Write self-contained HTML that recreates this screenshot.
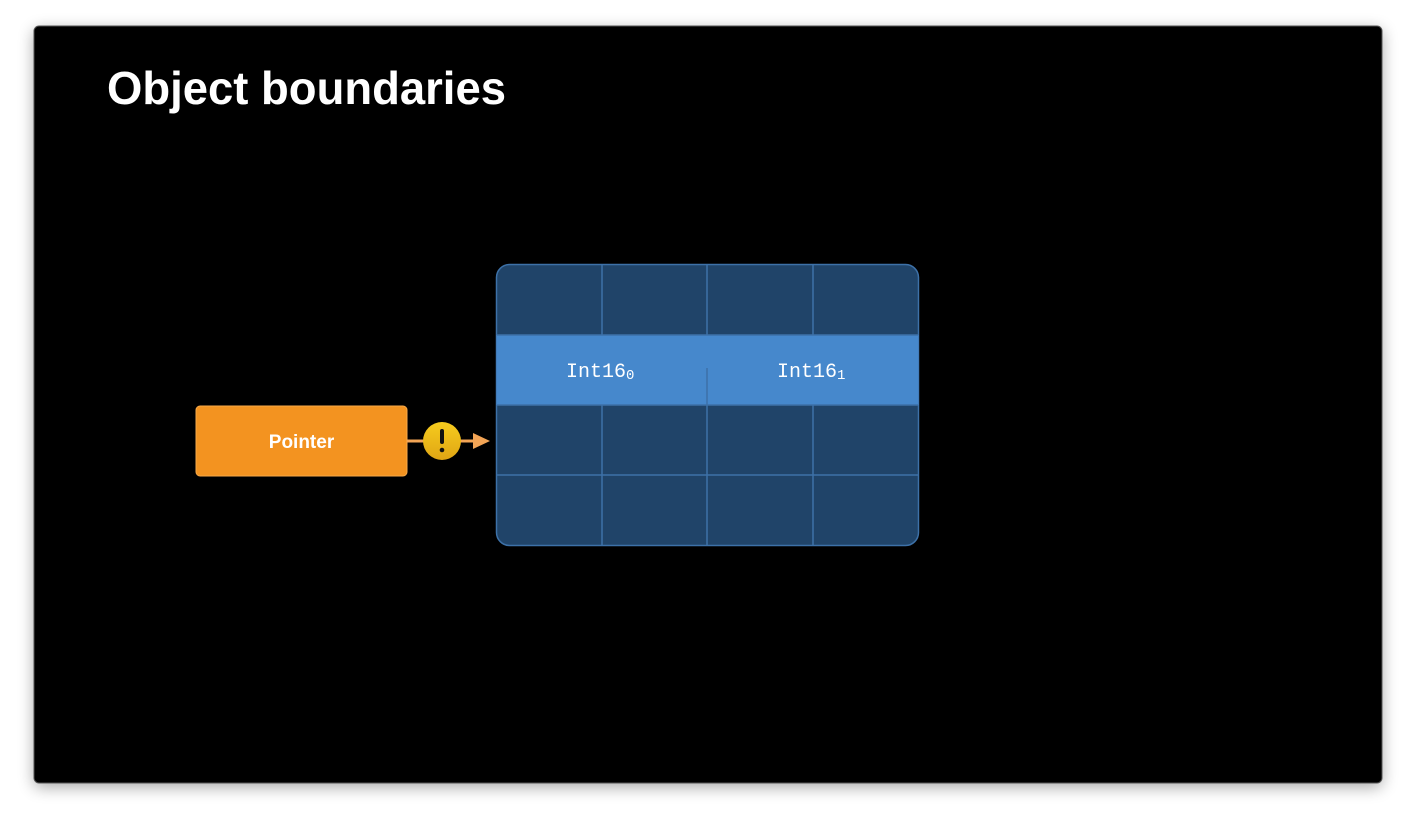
<!DOCTYPE html>
<html><head><style>
html,body{margin:0;padding:0;background:#fff;width:1416px;height:826px;overflow:hidden}
</style></head><body>
<svg width="1416" height="826" viewBox="0 0 1416 826" xmlns="http://www.w3.org/2000/svg">
<defs>
<filter id="sh" x="-5%" y="-5%" width="110%" height="115%"><feGaussianBlur stdDeviation="8"/></filter>
<linearGradient id="yg" x1="0" y1="0" x2="0" y2="1"><stop offset="0" stop-color="#f6cc1e"/><stop offset="1" stop-color="#e0a514"/></linearGradient>
</defs>
<rect x="34" y="30" width="1348" height="757" rx="5" fill="#000" opacity="0.35" filter="url(#sh)"/>
<rect x="34" y="26" width="1348" height="757" rx="5" fill="#000" stroke="#555" stroke-width="1"/>
<text x="107" y="104" font-family="Liberation Sans, sans-serif" font-weight="bold" font-size="46" fill="#fff" textLength="399" lengthAdjust="spacingAndGlyphs">Object boundaries</text>
<rect x="496.5" y="264.5" width="422" height="281" rx="13" fill="#204469" stroke="#3d71a8" stroke-width="1.5"/>
<rect x="496.5" y="335" width="422" height="70" fill="#4688cc"/>
<g stroke="#3d71a8" stroke-width="1.5">
<line x1="602" y1="265" x2="602" y2="335"/><line x1="707" y1="265" x2="707" y2="335"/><line x1="813" y1="265" x2="813" y2="335"/>
<line x1="602" y1="405" x2="602" y2="545"/><line x1="707" y1="405" x2="707" y2="545"/><line x1="813" y1="405" x2="813" y2="545"/>
<line x1="497" y1="335" x2="918" y2="335"/><line x1="497" y1="405" x2="918" y2="405"/><line x1="497" y1="475" x2="918" y2="475"/>
<line x1="707" y1="368" x2="707" y2="405"/>
</g>
<g font-family="Liberation Mono, monospace" font-size="20" fill="#fff">
<text x="566" y="377">Int16<tspan font-size="14" dy="2">0</tspan></text>
<text x="777" y="377">Int16<tspan font-size="14" dy="2">1</tspan></text>
</g>
<rect x="196" y="406" width="211" height="70" rx="4" fill="#f39320" stroke="#f7a948" stroke-width="1"/>
<text x="301.5" y="448" text-anchor="middle" font-family="Liberation Sans, sans-serif" font-weight="bold" font-size="19" fill="#fff">Pointer</text>
<line x1="407" y1="441" x2="476" y2="441" stroke="#f2a455" stroke-width="3"/>
<polygon points="490,441 473,433 473,449" fill="#f2a455"/>
<circle cx="442" cy="441" r="19" fill="url(#yg)"/>
<rect x="440" y="429" width="4" height="15" rx="2" fill="#111"/>
<circle cx="442" cy="450" r="2.3" fill="#111"/>
</svg>
</body></html>
